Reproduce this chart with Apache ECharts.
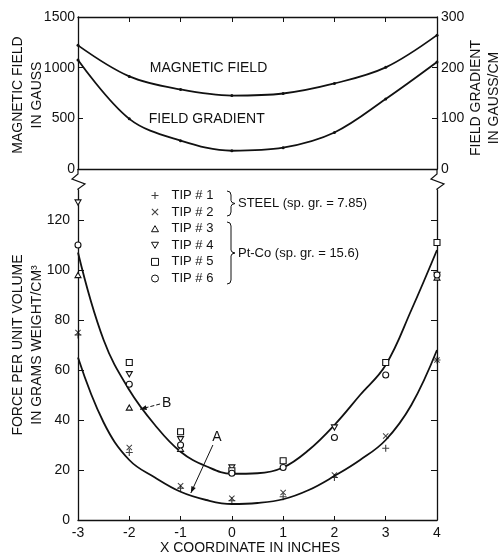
<!DOCTYPE html>
<html lang="en">
<head>
    <meta charset="UTF-8">
    <title>Force per unit volume vs X coordinate</title>
    <style>
        * { margin: 0; padding: 0; }
        body { background: #fff; }
        #chart { width: 501px; height: 557px; }
    </style>
</head>
<body>
    <div id="chart"></div>
    <script src="https://cdn.jsdelivr.net/npm/echarts@6.0.0/dist/echarts.min.js"></script>
    <script>
        // x positions (inches)
        const fieldX = [-3, -2, -1, 0, 1, 2, 3, 4];
        // top panel
        const magneticField = [1220, 914, 785, 725, 745, 844, 1003, 1321]; // gauss
        const fieldGradient = [215, 99, 56, 36, 42, 72, 138, 211];        // gauss/cm
        const fieldTicks = [0, 500, 1000, 1500];
        const gradientTicks = [0, 100, 200, 300];
        // bottom panel curves
        const curveX = [-3, -2.5, -2, -1.5, -1, -0.5, 0, 0.5, 1, 1.5, 2, 2.5, 3, 3.5, 4];
        const curveB = [107, 72, 52, 38, 27.3, 21.5, 18.5, 18.7, 21, 28, 38, 50, 62, 84, 108];
        const curveA = [65, 39, 24, 17, 11.3, 8, 6.4, 6.8, 8.3, 12, 17.6, 24, 32, 46, 68];
        const forceTicks = [0, 20, 40, 60, 80, 100, 120];
        // measured points, null = not plotted
        const tipX = [-3, -2, -1, 0, 1, 2, 3, 4];
        const tip1 = [74, 27, 12.7, 7.7, 9.3, 17, 28.7, 64];
        const tip2 = [75, 29, 13.7, 8.7, 11, 18, 33.6, 64];
        const tip3 = [98, 45, 28.5, null, null, null, null, 97];
        const tip4 = [127, 58.3, 32.3, 21, null, 37, null, 98];
        const tip5 = [null, 63, 35.3, 19.7, 23.7, null, 63, 111];
        const tip6 = [110, 54.3, 30, 18.7, 21, 33, 58, 98];
        const tipNames = ['TIP # 1', 'TIP # 2', 'TIP # 3', 'TIP # 4', 'TIP # 5', 'TIP # 6'];

        const FONT = 'Liberation Sans';
        const INK = '#111';
        // plot frame
        const L = 78, R = 437, TOP1 = 17, BOT1 = 169, TOP2 = 190, BOT2 = 520;

        function pairs(xs, ys) {
            let out = [];
            xs.forEach((x, i) => { if (ys[i] != null) out.push([x, ys[i]]); });
            return out;
        }

        // marker shapes: + and x filled, others hollow
        const plusPath = 'path://M4.2,0h1.6v4.2h4.2v1.6h-4.2v4.2h-1.6v-4.2h-4.2v-1.6h4.2z';
        const crossPath = 'path://M1.1,0L5,3.9L8.9,0L10,1.1L6.1,5L10,8.9L8.9,10L5,6.1L1.1,10L0,8.9L3.9,5L0,1.1z';
        const upTri = 'path://M5,0L10,8.66L0,8.66z';
        const downTri = 'path://M0,0L10,0L5,8.66z';
        const tipStyles = [
            { symbol: plusPath, size: 7, hollow: false },
            { symbol: crossPath, size: 6, hollow: false },
            { symbol: upTri, size: 6, hollow: true },
            { symbol: downTri, size: 6, hollow: true },
            { symbol: 'rect', size: 6, hollow: true },
            { symbol: 'circle', size: 6, hollow: true }
        ];
        const tipData = [tip1, tip2, tip3, tip4, tip5, tip6];

        const tipSeries = tipData.map((ys, i) => ({
            name: tipNames[i],
            type: 'scatter',
            xAxisIndex: 2,
            yAxisIndex: 2,
            symbol: tipStyles[i].symbol,
            symbolSize: tipStyles[i].size,
            symbolKeepAspect: true,
            itemStyle: tipStyles[i].hollow
                ? { color: '#fff', borderColor: INK, borderWidth: 1.1, opacity: 1 }
                : { color: INK, borderWidth: 0 },
            z: 5,
            data: pairs(tipX, ys)
        }));

        const axisLine = { show: true, onZero: false, lineStyle: { color: INK, width: 1.3 } };
        const labelStyle = { color: INK, fontFamily: FONT, fontSize: 14, formatter: v => String(v) };

        let myChart = echarts.init(document.getElementById('chart'));
        const option = {
            backgroundColor: '#fff',
            animation: false,
            grid: [
                { left: L, right: 501 - R, top: TOP1, height: BOT1 - TOP1 },
                { left: L, right: 501 - R, top: TOP2, height: BOT2 - TOP2 }
            ],
            legend: {
                orient: 'vertical',
                left: 146,
                top: 184,
                itemWidth: 7,
                itemHeight: 7,
                itemGap: 3.6,
                itemStyle: { borderWidth: 1 },
                textStyle: { color: INK, fontFamily: FONT, fontSize: 13, lineHeight: 13, padding: [0, 0, 0, 8] },
                data: tipNames
            },
            xAxis: [
                // top panel, top edge with ticks
                {
                    gridIndex: 0, type: 'value', position: 'top', min: -3, max: 4, interval: 1,
                    axisLine: axisLine,
                    axisTick: { inside: true, length: 5, lineStyle: { color: INK } },
                    axisLabel: { show: false },
                    splitLine: { show: false }
                },
                // top panel, bottom edge
                {
                    gridIndex: 0, type: 'value', position: 'bottom', min: -3, max: 4, interval: 1,
                    axisLine: axisLine,
                    axisTick: { show: false },
                    axisLabel: { show: false },
                    splitLine: { show: false }
                },
                // bottom panel
                {
                    gridIndex: 1, type: 'value', min: -3, max: 4, interval: 1,
                    axisLine: axisLine,
                    axisTick: { inside: true, length: 6, lineStyle: { color: INK, type: 'dashed' } },
                    axisLabel: Object.assign({ margin: 6 }, labelStyle),
                    splitLine: { show: false }
                }
            ],
            yAxis: [
                {
                    gridIndex: 0, type: 'value', min: 0, max: 1500,
                    axisLine: axisLine,
                    axisTick: { inside: true, length: 5, customValues: fieldTicks, lineStyle: { color: INK } },
                    axisLabel: Object.assign({ margin: 3, customValues: fieldTicks }, labelStyle),
                    splitLine: { show: false }
                },
                {
                    gridIndex: 0, type: 'value', position: 'right', min: 0, max: 300,
                    axisLine: axisLine,
                    axisTick: { inside: true, length: 5, customValues: gradientTicks, lineStyle: { color: INK } },
                    axisLabel: Object.assign({ margin: 4, customValues: gradientTicks }, labelStyle),
                    splitLine: { show: false }
                },
                {
                    gridIndex: 1, type: 'value', min: 0, max: (BOT2 - TOP2) / 2.5,
                    axisLine: axisLine,
                    axisTick: { inside: true, length: 6, customValues: forceTicks, lineStyle: { color: INK } },
                    axisLabel: Object.assign({ margin: 8, customValues: forceTicks }, labelStyle),
                    splitLine: { show: false }
                },
                {
                    gridIndex: 1, type: 'value', position: 'right', min: 0, max: (BOT2 - TOP2) / 2.5,
                    axisLine: axisLine,
                    axisTick: { inside: true, length: 6, customValues: forceTicks, lineStyle: { color: INK } },
                    axisLabel: { show: false },
                    splitLine: { show: false }
                }
            ],
            series: [
                {
                    name: 'MAGNETIC FIELD', type: 'line', xAxisIndex: 0, yAxisIndex: 0,
                    smooth: 0.35, symbol: 'circle', symbolSize: 3,
                    itemStyle: { color: INK }, lineStyle: { color: INK, width: 1.8 },
                    data: pairs(fieldX, magneticField)
                },
                {
                    name: 'FIELD GRADIENT', type: 'line', xAxisIndex: 0, yAxisIndex: 1,
                    smooth: 0.35, symbol: 'circle', symbolSize: 3,
                    itemStyle: { color: INK }, lineStyle: { color: INK, width: 1.8 },
                    data: pairs(fieldX, fieldGradient)
                },
                {
                    name: 'B', type: 'line', xAxisIndex: 2, yAxisIndex: 2,
                    smooth: 0.4, showSymbol: false,
                    lineStyle: { color: INK, width: 1.8 },
                    data: pairs(curveX, curveB)
                },
                {
                    name: 'A', type: 'line', xAxisIndex: 2, yAxisIndex: 2,
                    smooth: 0.4, showSymbol: false,
                    lineStyle: { color: INK, width: 1.8 },
                    data: pairs(curveX, curveA)
                }
            ].concat(tipSeries)
        };
        myChart.setOption(option);

        // annotations placed from data coordinates
        const toTop = p => myChart.convertToPixel({ xAxisIndex: 0, yAxisIndex: 0 }, p);
        const toBot = p => myChart.convertToPixel({ xAxisIndex: 2, yAxisIndex: 2 }, p);
        const txt = (x, y, text, extra) => Object.assign({
            type: 'text', x: x, y: y, silent: true,
            style: Object.assign({ text: text, fill: INK, font: '14px "' + FONT + '"', align: 'left', verticalAlign: 'middle' }, extra || {})
        });
        const line = (a, b, dashed) => ({
            type: 'line', silent: true,
            shape: { x1: a[0], y1: a[1], x2: b[0], y2: b[1] },
            style: { stroke: INK, lineWidth: 1, lineDash: dashed ? [4, 2] : null }
        });
        function arrowHead(from, to) {
            let ang = Math.atan2(to[1] - from[1], to[0] - from[0]);
            let s = 7, w = 0.35;
            return {
                type: 'polygon', silent: true,
                shape: { points: [to,
                    [to[0] - s * Math.cos(ang - w), to[1] - s * Math.sin(ang - w)],
                    [to[0] - s * Math.cos(ang + w), to[1] - s * Math.sin(ang + w)]] },
                style: { fill: INK }
            };
        }
        function brace(x, y0, y1) {
            let m = (y0 + y1) / 2;
            return {
                type: 'polyline', silent: true,
                shape: { points: [[x, y0], [x + 3, y0 + 1], [x + 4, y0 + 4], [x + 4, m - 3], [x + 5, m - 1], [x + 8, m],
                    [x + 5, m + 1], [x + 4, m + 3], [x + 4, y1 - 4], [x + 3, y1 - 1], [x, y1]] },
                style: { stroke: INK, lineWidth: 1, fill: null }
            };
        }
        function zigzag(x) {
            return {
                type: 'polyline', silent: true,
                shape: { points: [[x, BOT1], [x, BOT1 + 5], [x - 6, BOT1 + 10], [x + 7, BOT1 + 15], [x, TOP2 - 1], [x, TOP2]] },
                style: { stroke: INK, lineWidth: 1.2, fill: null }
            };
        }

        let magPos = toTop([-1.6, 1000]);
        let gradPos = toTop([-1.62, 495]);
        let aText = toBot([-0.29, 33]);
        let aFrom = toBot([-0.37, 30]);
        let aTo = toBot([-0.8, 10.8]);
        let bText = toBot([-1.27, 46.8]);
        let bFrom = toBot([-1.4, 46.4]);
        let bTo = toBot([-1.79, 44.3]);

        const rot = Math.PI / 2;
        const graphic = [
            txt(magPos[0], magPos[1], 'MAGNETIC FIELD'),
            txt(gradPos[0], gradPos[1], 'FIELD GRADIENT'),
            txt(aText[0], aText[1], 'A', { align: 'center' }),
            line(aFrom, aTo), arrowHead(aFrom, aTo),
            txt(bText[0], bText[1], 'B', { align: 'center' }),
            line(bFrom, bTo, true), arrowHead(bFrom, bTo),
            brace(227, 191, 216),
            brace(227, 222, 284),
            txt(238, 203.5, 'STEEL (sp. gr. = 7.85)', { font: '13px "' + FONT + '"' }),
            txt(238, 253, 'Pt-Co (sp. gr. = 15.6)', { font: '13px "' + FONT + '"' }),
            zigzag(L), zigzag(R),
            // axis titles
            Object.assign(txt(18, 95, 'MAGNETIC FIELD', { align: 'center' }), { rotation: rot }),
            Object.assign(txt(37, 95, 'IN GAUSS', { align: 'center' }), { rotation: rot }),
            Object.assign(txt(476, 98, 'FIELD GRADIENT', { align: 'center' }), { rotation: rot }),
            Object.assign(txt(494, 98, 'IN GAUSS/CM', { align: 'center' }), { rotation: rot }),
            Object.assign(txt(18, 345, 'FORCE PER UNIT VOLUME', { align: 'center' }), { rotation: rot }),
            Object.assign(txt(37, 345, 'IN GRAMS WEIGHT/CM³', { align: 'center' }), { rotation: rot }),
            txt(250, 548, 'X COORDINATE IN INCHES', { align: 'center' })
        ];
        myChart.setOption({ graphic: graphic });
    </script>
</body>
</html>
